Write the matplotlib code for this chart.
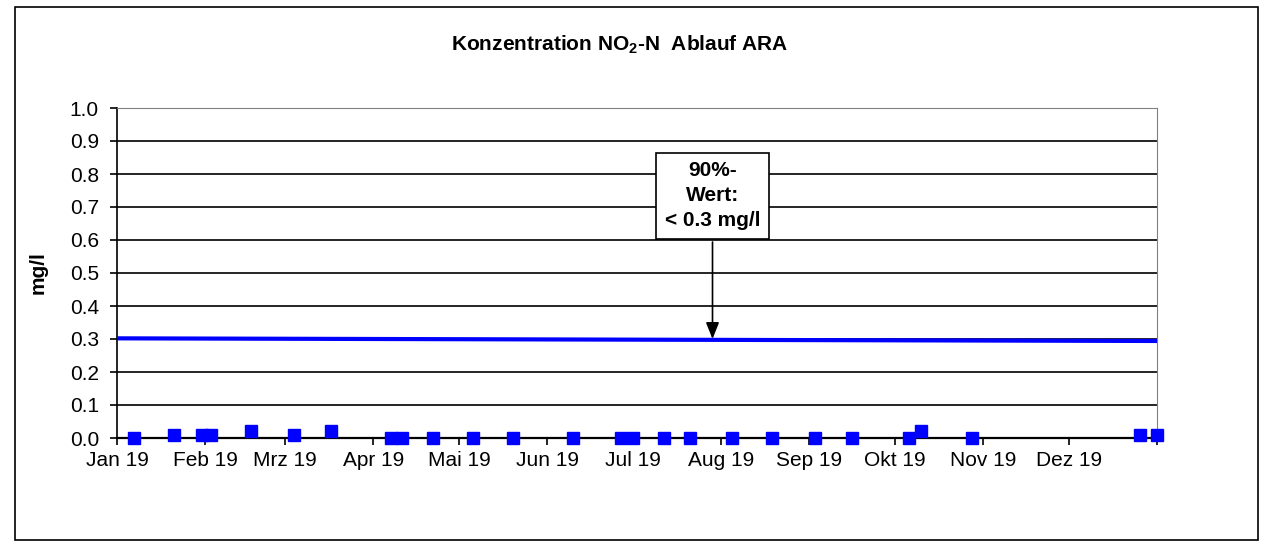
import matplotlib.pyplot as plt
from matplotlib.patches import Rectangle
import numpy as np
import datetime as dt

plt.rcParams['font.family'] = ['Liberation Sans', 'DejaVu Sans']
plt.rcParams['mathtext.fontset'] = 'custom'
plt.rcParams['mathtext.rm'] = 'Liberation Sans'
plt.rcParams['mathtext.bf'] = 'Liberation Sans:bold'

# Messwerte NO2-N Ablauf
daten = ['2019-01-07', '2019-01-21', '2019-01-31', '2019-02-03', '2019-02-17',
         '2019-03-04', '2019-03-17', '2019-04-07', '2019-04-11', '2019-04-22',
         '2019-05-06', '2019-05-20', '2019-06-10', '2019-06-27', '2019-07-01',
         '2019-07-12', '2019-07-21', '2019-08-05', '2019-08-19', '2019-09-03',
         '2019-09-16', '2019-10-06', '2019-10-10', '2019-10-28', '2019-12-26',
         '2020-01-01']
werte = [0.00, 0.01, 0.01, 0.01, 0.02,
         0.01, 0.02, 0.00, 0.00, 0.00,
         0.00, 0.00, 0.00, 0.00, 0.00,
         0.00, 0.00, 0.00, 0.00, 0.00,
         0.00, 0.00, 0.02, 0.00, 0.01,
         0.01]

# 90%-Wert Linie
linie_x = ['2019-01-01', '2020-01-01']
linie_y = [0.302, 0.294]

monate = ['Jan 19', 'Feb 19', 'Mrz 19', 'Apr 19', 'Mai 19', 'Jun 19',
          'Jul 19', 'Aug 19', 'Sep 19', 'Okt 19', 'Nov 19', 'Dez 19', '']

x = [dt.datetime.strptime(d, '%Y-%m-%d') for d in daten]
lx = [dt.datetime.strptime(d, '%Y-%m-%d') for d in linie_x]

fig = plt.figure(figsize=(12.64, 5.47), dpi=100)
fig.patches.append(Rectangle((15/1264, 1-540/547), 1243/1264, 533/547,
                             transform=fig.transFigure, fill=False,
                             edgecolor='black', lw=1.2))

ax = fig.add_axes([117/1264, 1-438/547, 1040/1264, 330/547])

ax.plot(lx, linie_y, color='#0000FF', lw=3, zorder=3)
ax.plot(x, werte, 's', color='#0000FF', ms=8.5, zorder=4, clip_on=False)

ax.set_xlim(dt.datetime(2019, 1, 1), dt.datetime(2020, 1, 1))
ax.set_ylim(0, 1.0)
yt = np.arange(0, 1.01, 0.1)
ax.set_yticks(yt)
ax.set_yticklabels(['%.1f' % v for v in yt], fontsize=15)
ticks = [dt.datetime(2019, m, 1) for m in range(1, 13)] + [dt.datetime(2020, 1, 1)]
ax.set_xticks(ticks)
ax.set_xticklabels(monate, fontsize=15)
ax.tick_params(axis='both', direction='out', length=5, width=1.2, color='black')
ax.tick_params(axis='y', pad=8)
ax.tick_params(axis='x', pad=4)

ax.grid(axis='y', color='black', lw=1.2)
ax.set_axisbelow(True)
ax.spines['left'].set_color('black')
ax.spines['bottom'].set_color('black')
ax.spines['left'].set_linewidth(1.2)
ax.spines['bottom'].set_linewidth(1.6)
ax.spines['top'].set_color('#808080')
ax.spines['right'].set_color('#808080')

ax.set_ylabel('mg/l', fontsize=15, fontweight='bold', labelpad=16)

fig.text(620/1264, 1-45/547, r'Konzentration NO$_\mathbf{2}$-N  Ablauf ARA',
         ha='center', va='center', fontsize=15, fontweight='bold')

# Annotation mit Pfeil
ax.annotate('', xy=(dt.datetime(2019, 7, 29), 0.30), xytext=(dt.datetime(2019, 7, 29), 0.594),
            arrowprops=dict(arrowstyle='-|>,head_width=0.4,head_length=1.0', color='black', lw=1.2,
                            shrinkA=0, shrinkB=0),
            zorder=5)
ax.text(dt.datetime(2019, 7, 29), 0.734, '90%-\nWert:\n< 0.3 mg/l', ha='center', va='center',
        fontsize=15, fontweight='bold', linespacing=1.4, zorder=6,
        bbox=dict(boxstyle='square,pad=0.4', facecolor='white', edgecolor='black', lw=1.2))

fig.savefig('out.png', dpi=100)
